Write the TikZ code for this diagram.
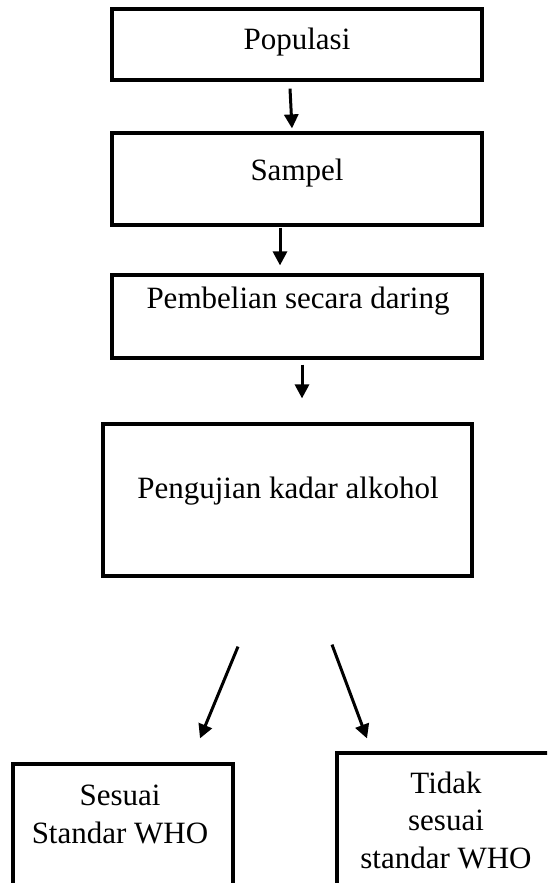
\documentclass[tikz,border=0pt]{standalone}
\usepackage{fontspec}
\setmainfont{Liberation Serif}
\usetikzlibrary{arrows.meta,positioning}

\begin{document}
\begin{tikzpicture}[
  x=1pt,y=-1pt,
  font=\fontsize{31}{38}\selectfont,
  box/.style={draw,line width=3.2pt,inner sep=0pt},
  arr/.style={-{Triangle[length=14pt,width=14pt]},line width=3pt},
  lbl/.style={anchor=base,align=center,inner sep=0pt,
    execute at begin node={\baselineskip=37.5pt}}]

% sheet of 547x883 px, y grows downwards
\clip (0,0) rectangle (547,883);

% ---- main column ----
\node[box,minimum width=370,minimum height=71] (populasi) at (297,44.5) {};
\node[lbl] (populasitxt) at (297,50) {Populasi};
\node[box,minimum width=370,minimum height=92] (sampel) at (297,179) {};
\node[lbl] (sampeltxt) at (297,180) {Sampel};
\node[box,minimum width=370,minimum height=83] (pembelian) at (297,316.5) {};
\node[lbl] (pembeliantxt) at (298,308) {Pembelian secara daring};
\node[box,minimum width=369,minimum height=152] (pengujian) at (287.5,500) {};
\node[lbl] (pengujiantxt) at (288,498) {Pengujian kadar alkohol};

% ---- outcome boxes (cut by the sheet edge) ----
% base anchor of a two/three line label sits on its last line
\node[box,minimum width=220,minimum height=140] (sesuai) at (123,834) {};
\node[lbl] (sesuaitxt) at (120,843) {Sesuai\\Standar WHO};
\node[box,minimum width=218,minimum height=150] (tidak) at (446,828) {};
\node[lbl] (tidaktxt) at (446,868) {Tidak\\sesuai\\standar WHO};

% arrows float in the gaps between the boxes
\draw[arr] ([xshift=-7pt,yshift=-7pt]populasi.south)
  -- ([xshift=-5pt,yshift=3pt]sampel.north);
\draw[arr] ([xshift=-17pt,yshift=-1pt]sampel.south)
  -- ([xshift=-17pt,yshift=8pt]pembelian.north);
\draw[arr] ([xshift=5pt,yshift=-5pt]pembelian.south)
  -- ([xshift=14.5pt,yshift=24pt]pengujian.north);
\draw[arr] ([xshift=-49.5pt,yshift=-69pt]pengujian.south)
  -- ([xshift=77pt,yshift=24pt]sesuai.north);
\draw[arr] ([xshift=44.5pt,yshift=-67pt]pengujian.south)
  -- ([xshift=-79pt,yshift=13pt]tidak.north);
\end{tikzpicture}
\end{document}
